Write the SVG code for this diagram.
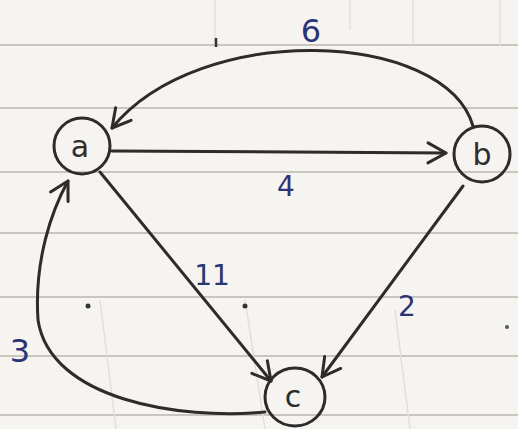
<svg xmlns="http://www.w3.org/2000/svg" width="518" height="429" viewBox="0 0 518 429">
<style>
.rule{stroke:#c9c6c0;stroke-width:2;fill:none}
.vrule{stroke:#e2dfda;stroke-width:1.5;fill:none}
.edge{stroke:#2e2c2a;stroke-width:3;fill:none;stroke-linecap:round}
.node{fill:none;stroke:#2e2c2a;stroke-width:3}
.nlabel{font-family:"DejaVu Sans",sans-serif;font-size:30px;fill:#2e2c2a;text-anchor:middle}
.wlabel{font-family:"DejaVu Sans",sans-serif;fill:#2b3475;text-anchor:middle}
</style>
<defs>
<marker id="arr" markerUnits="userSpaceOnUse" markerWidth="30" markerHeight="30" viewBox="-22 -15 30 30" refX="0" refY="0" orient="auto">
<path d="M -18 -10 L 0 0 L -18 10" fill="none" stroke="#2e2c2a" stroke-width="3" stroke-linecap="round" stroke-linejoin="round"/>
</marker>
</defs>
<rect width="518" height="429" fill="#f5f4f1"/>
<g id="paper">
<path class="rule" d="M0 45 H518 M0 108 H518 M0 172 H518 M0 233 H518 M0 297 H518 M0 356 H518 M0 415 H518"/>
<path class="vrule" d="M215 0 V45 M350 0 V30 M413 0 V45 M500 0 V45 M100 300 L116 429 M245 300 L265 429 M395 310 L410 429"/>
<circle cx="88" cy="306" r="2.5" fill="#333"/>
<circle cx="245" cy="306" r="2.5" fill="#333"/>
<circle cx="507" cy="327" r="2" fill="#555"/>
<path d="M216 38 V47" stroke="#333" stroke-width="2.5"/>
</g>
<g id="connectors">
<path id="e-ba" class="edge" d="M 473 126 C 445 30, 200 20, 112 128" marker-end="url(#arr)"/>
<path id="e-ab" class="edge" d="M 112 151 L 446 153" marker-end="url(#arr)"/>
<path id="e-ac" class="edge" d="M 100 172 L 271 381" marker-end="url(#arr)"/>
<path id="e-bc" class="edge" d="M 463 186 L 322 377" marker-end="url(#arr)"/>
<path id="e-ca" class="edge" d="M 265 412 C 180 420, 50 400, 38 320 C 34 260, 52 210, 68 181" marker-end="url(#arr)"/>
<text class="wlabel" x="311" y="42" font-size="32">6</text>
<text class="wlabel" x="286" y="196" font-size="28">4</text>
<text class="wlabel" x="212" y="285" font-size="28">11</text>
<text class="wlabel" x="407" y="316" font-size="28">2</text>
<text class="wlabel" x="20" y="362" font-size="32">3</text>
</g>
<g id="node-a">
<ellipse class="node" cx="82" cy="146" rx="28" ry="28"/>
<text class="nlabel" x="80" y="157">a</text>
</g>
<g id="node-b">
<ellipse class="node" cx="482" cy="154" rx="28" ry="28"/>
<text class="nlabel" x="482" y="165">b</text>
</g>
<g id="node-c">
<ellipse class="node" cx="295" cy="397" rx="30" ry="29"/>
<text class="nlabel" x="293" y="407">c</text>
</g>
</svg>
